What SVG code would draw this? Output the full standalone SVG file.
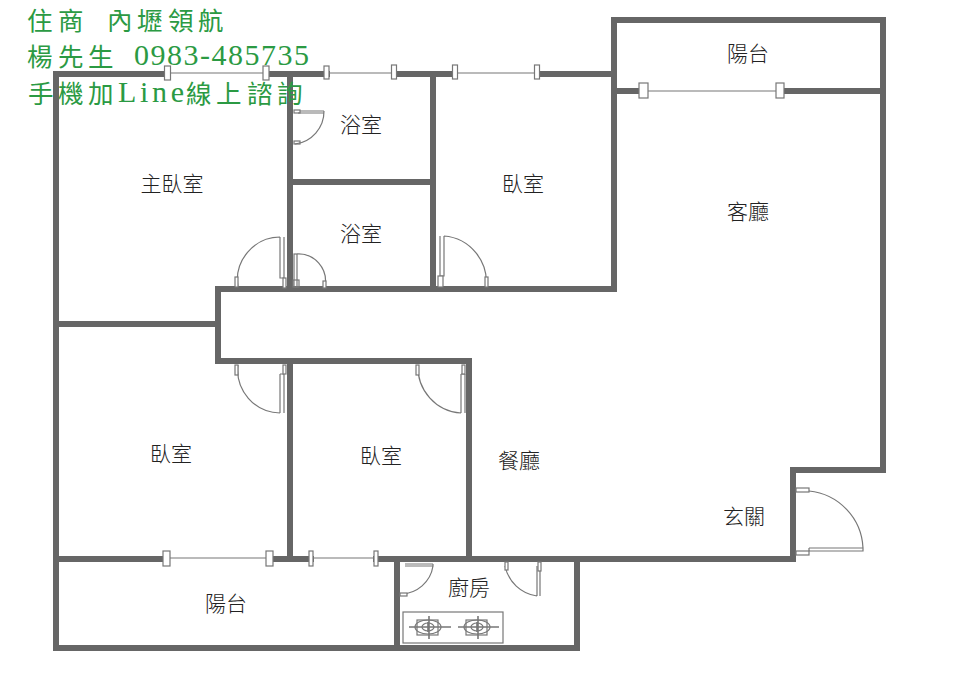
<svg xmlns="http://www.w3.org/2000/svg" width="957" height="690" viewBox="0 0 957 690">
<style>
.w{stroke:#666;stroke-width:6;fill:none;stroke-linecap:square}
.t{stroke:#777;stroke-width:1.2;fill:none}
.f{stroke:#777;stroke-width:1.2;fill:#fff}
.l{font-family:"Noto Sans CJK TC","Noto Sans CJK SC",sans-serif;font-size:21px;font-weight:300;fill:#222;text-anchor:middle}
.g{font-family:"Noto Sans CJK TC",serif;font-size:25.500px;font-weight:400;fill:#2b9a43}
.n{font-family:"Liberation Serif",serif;font-size:30px;fill:#2b9a43}
</style>
<rect width="957" height="690" fill="#fff"/>
<g id="walls">
<path class="w" d="M56 74H167M266 74H327M394 74H455M537 74H612M56 74V648H577V560M56 559H166M269 559H311M376 559H577M472 559H793V470H883V20H614V289H218V361H469V559"/>
<path class="w" d="M290 74V289M433 74V289M290 182H433M56 324H218M290 361V559M397 559V648M614 91H643M780 91H883"/>
</g>
<g id="connectors">
<path class="t" d="M167 73H266M327 73H394M455 73H537M643 91H780M166 558H269M311 558H376"/>
<g class="f">
<rect x="164.500" y="66" width="6" height="14"/><rect x="263" y="66" width="6" height="14"/><rect x="324" y="66" width="5" height="13"/><rect x="391.500" y="65" width="5" height="14"/><rect x="452.500" y="65" width="5" height="14"/><rect x="534.500" y="65" width="5" height="14"/>
<rect x="639" y="83" width="9" height="15"/><rect x="776" y="83" width="8" height="15"/>
<rect x="163" y="551" width="7" height="15"/><rect x="266" y="551" width="7" height="15"/><rect x="309" y="551" width="4" height="15"/><rect x="374" y="551" width="4" height="15"/>
</g>
</g>
<g id="door-bath1" class="t"><rect x="294" y="110" width="6" height="3"/><rect x="294" y="141" width="6" height="3"/><path d="M300 111H324M298 113H324M324 111A33 33 0 0 1 295 144"/></g>
<g id="door-master" class="t"><path d="M284 237V278M280 237V278H284M280 237A43 43 0 0 0 238 287"/><rect x="235" y="277" width="3" height="10" class="f"/><rect x="283" y="278" width="3" height="10" class="f"/></g>
<g id="door-bath2" class="t"><rect x="294" y="254" width="3" height="33"/><path d="M297 254A27 27 0 0 1 325 286"/><rect x="323" y="281" width="3" height="7" class="f"/><rect x="293" y="280" width="6" height="7"/></g>
<g id="door-bed1" class="t"><path d="M440 236V276M444 236V276H440M444 236A46 46 0 0 1 486 287"/><rect x="485" y="277" width="3" height="10" class="f"/><rect x="438" y="276" width="5" height="11" class="f"/></g>
<g id="door-bed2" class="t"><path d="M284 374V413M280 374V413M280 374H284M280 413A43 43 0 0 1 238 365"/><rect x="235" y="365" width="3" height="10" class="f"/><rect x="283" y="365" width="3" height="9" class="f"/></g>
<g id="door-bed3" class="t"><path d="M461 374V413M465 374V413M461 374H465M461 413A46 46 0 0 1 418 365"/><rect x="416" y="365" width="3" height="10" class="f"/><rect x="462" y="365" width="3" height="9" class="f"/></g>
<g id="door-entry" class="t"><rect x="796" y="488" width="13" height="4"/><rect x="796" y="551" width="13" height="4"/><path d="M809 548V551M809 548H863V551H809M809 491A60 60 0 0 1 863 548"/></g>
<g id="door-kitchen1" class="t"><path d="M405 564H433M405 566H433V564M433 566A33 33 0 0 1 401 594"/><rect x="400" y="593" width="7" height="3" class="f"/></g>
<g id="door-kitchen2" class="t"><path d="M537 566V596M540 566V596M505 566A38 38 0 0 0 537 596"/><rect x="505" y="562" width="3" height="8" class="f"/><rect x="538" y="562" width="3" height="9" class="f"/></g>
<g id="stove" class="t">
<rect x="403" y="612" width="100" height="31"/>
<g id="burner1"><rect x="417" y="620" width="21" height="15"/><ellipse cx="428" cy="627" rx="13" ry="7"/><ellipse cx="428" cy="627" rx="6" ry="4"/><path d="M409 627H451M429 616V639M428 622V632" stroke-width="1.6"/></g>
<g id="burner2"><rect x="466" y="620" width="21" height="15"/><ellipse cx="477" cy="627" rx="13" ry="7"/><ellipse cx="477" cy="627" rx="6" ry="4"/><path d="M458 627H499M478 616V639M477 622V632" stroke-width="1.6"/></g>
</g>
<g id="labels">
<text class="l" x="748" y="61">陽台</text>
<text class="l" x="361" y="132">浴室</text>
<text class="l" x="172" y="191">主臥室</text>
<text class="l" x="523" y="191">臥室</text>
<text class="l" x="748" y="219">客廳</text>
<text class="l" x="361" y="241">浴室</text>
<text class="l" x="171" y="461">臥室</text>
<text class="l" x="381" y="463">臥室</text>
<text class="l" x="519" y="468">餐廳</text>
<text class="l" x="744" y="524">玄關</text>
<text class="l" x="469" y="595">廚房</text>
<text class="l" x="226" y="611">陽台</text>
</g>
<g id="contact">
<text class="g" x="27 58" y="30">住商</text>
<text class="g" x="107 137 168 198" y="30">內壢領航</text>
<text class="g" x="27 58 88" y="65.500">楊先生</text>
<text class="n" x="134" y="65" letter-spacing="1.5">0983-485735</text>
<text class="g" x="28 58 88" y="102.500">手機加</text>
<text class="n" x="118" y="102" font-size="29" letter-spacing="3.700">Line</text>
<text class="g" x="186 216 247 277" y="102.500">線上諮詢</text>
</g>
</svg>
